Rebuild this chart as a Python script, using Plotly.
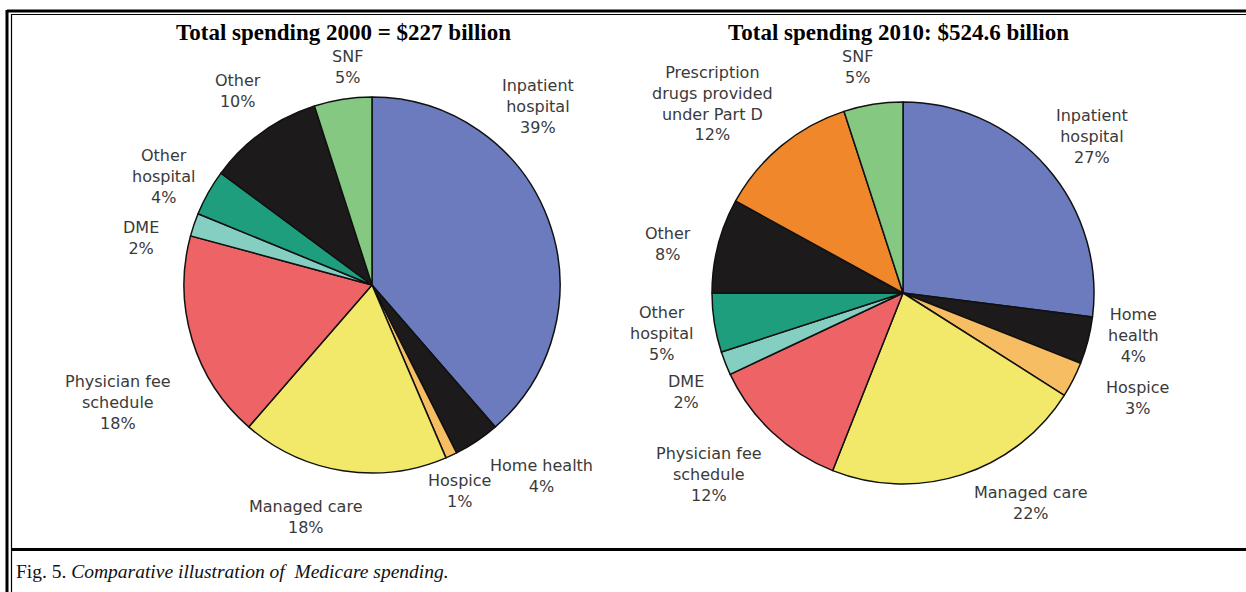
import plotly.graph_objects as go

# ---------------- data ----------------
titles = ["Total spending 2000 = $227 billion", "Total spending 2010: $524.6 billion"]

cats_2000 = ["Inpatient hospital", "Home health", "Hospice", "Managed care",
             "Physician fee schedule", "DME", "Other hospital", "Other", "SNF"]
vals_2000 = [39, 4, 1, 18, 18, 2, 4, 10, 5]

cats_2010 = ["Inpatient hospital", "Home health", "Hospice", "Managed care",
             "Physician fee schedule", "DME", "Other hospital", "Other",
             "Prescription drugs provided under Part D", "SNF"]
vals_2010 = [27, 4, 3, 22, 12, 2, 5, 8, 12, 5]

caption_plain = "Fig. 5. "
caption_italic = "Comparative illustration of  Medicare spending."

# ---------------- styles ----------------
colors = {
    "Inpatient hospital": "#6b7bbd",
    "Home health": "#1c1a1a",
    "Hospice": "#f7bd62",
    "Managed care": "#f2e96b",
    "Physician fee schedule": "#ee6466",
    "DME": "#84cfc1",
    "Other hospital": "#1f9e7d",
    "Other": "#1c1a1a",
    "SNF": "#85c882",
    "Prescription drugs provided under Part D": "#f0872a",
}

# label line breaks (display form of category names)
label_text_2000 = {
    "Inpatient hospital": "Inpatient<br>hospital",
    "Home health": "Home health",
    "Hospice": "Hospice",
    "Managed care": "Managed care",
    "Physician fee schedule": "Physician fee<br>schedule",
    "DME": "DME",
    "Other hospital": "Other<br>hospital",
    "Other": "Other",
    "SNF": "SNF",
}
label_text_2010 = {
    "Inpatient hospital": "Inpatient<br>hospital",
    "Home health": "Home<br>health",
    "Hospice": "Hospice",
    "Managed care": "Managed care",
    "Physician fee schedule": "Physician fee<br>schedule",
    "DME": "DME",
    "Other hospital": "Other<br>hospital",
    "Other": "Other",
    "SNF": "SNF",
    "Prescription drugs provided under Part D": "Prescription<br>drugs provided<br>under Part D",
}

# label centre positions in pixels (layout only)
pos_2000 = {
    "SNF": (348, 67), "Other": (238, 91), "Inpatient hospital": (538, 107),
    "Other hospital": (163, 176), "DME": (141, 238),
    "Physician fee schedule": (118, 402), "Managed care": (305, 517),
    "Hospice": (460, 491), "Home health": (541, 476),
}
pos_2010 = {
    "SNF": (857, 67), "Prescription drugs provided under Part D": (712, 104),
    "Inpatient hospital": (1092, 136), "Other": (668, 244),
    "Other hospital": (661, 333), "DME": (686, 392),
    "Physician fee schedule": (709, 474), "Managed care": (1030, 503),
    "Home health": (1133, 335), "Hospice": (1137, 398),
}

W, H = 1246, 592


def px(x):
    return x / W


def py(y):
    return 1 - y / H


def pie_domain(cx, cy, r):
    return dict(x=[px(cx - r), px(cx + r)], y=[py(cy + r), py(cy - r)])


fig = go.Figure()
for cats, vals, (cx, cy, r) in [(cats_2000, vals_2000, (372, 285, 188)),
                                (cats_2010, vals_2010, (903, 293, 191))]:
    fig.add_trace(go.Pie(
        labels=cats, values=vals, sort=False, direction="clockwise", rotation=0,
        marker=dict(colors=[colors[c] for c in cats], line=dict(color="#111111", width=1.5)),
        textinfo="none", hoverinfo="label+percent", showlegend=False,
        domain=pie_domain(cx, cy, r),
    ))

annotations = []
label_font = dict(family="DejaVu Sans, Arial, sans-serif", size=16, color="#3a3a3a")
for cats, vals, texts, pos in [(cats_2000, vals_2000, label_text_2000, pos_2000),
                               (cats_2010, vals_2010, label_text_2010, pos_2010)]:
    for c, v in zip(cats, vals):
        x, y = pos[c]
        annotations.append(dict(
            x=px(x), y=py(y), xref="paper", yref="paper", showarrow=False,
            text=f"{texts[c]}<br>{v}%", font=label_font, align="center",
            xanchor="center", yanchor="middle",
        ))

title_font = dict(family="Liberation Serif, Times New Roman, serif", size=23, color="#000000")
for t, x in zip(titles, [343, 898]):
    annotations.append(dict(
        x=px(x), y=py(32), xref="paper", yref="paper", showarrow=False,
        text=f"<b>{t}</b>", font=title_font, xanchor="center", yanchor="middle",
    ))

annotations.append(dict(
    x=px(14), y=py(571), xref="paper", yref="paper", showarrow=False,
    text=f"{caption_plain}<i>{caption_italic}</i>",
    font=dict(family="Liberation Serif, Times New Roman, serif", size=19.5, color="#111111"),
    xanchor="left", yanchor="middle",
))

# frame lines (pixels)
shapes = [
    # outer thick frame
    dict(type="line", x0=px(7), x1=px(1250), y0=py(11), y1=py(11), line=dict(color="#000", width=3)),
    dict(type="line", x0=px(7), x1=px(7), y0=py(10), y1=py(600), line=dict(color="#000", width=3)),
    # inner thin frame
    dict(type="line", x0=px(11.5), x1=px(1250), y0=py(14.5), y1=py(14.5), line=dict(color="#000", width=1.2)),
    dict(type="line", x0=px(11.5), x1=px(11.5), y0=py(14), y1=py(600), line=dict(color="#000", width=1.2)),
    # caption separator
    dict(type="line", x0=px(11.5), x1=px(1250), y0=py(549.5), y1=py(549.5), line=dict(color="#000", width=3)),
]
for s in shapes:
    s.update(xref="paper", yref="paper")

fig.update_layout(
    width=W, height=H, margin=dict(l=0, r=0, t=0, b=0),
    paper_bgcolor="white", plot_bgcolor="white",
    annotations=annotations, shapes=shapes,
)

fig.write_html("out.html", config={"displayModeBar": False})
